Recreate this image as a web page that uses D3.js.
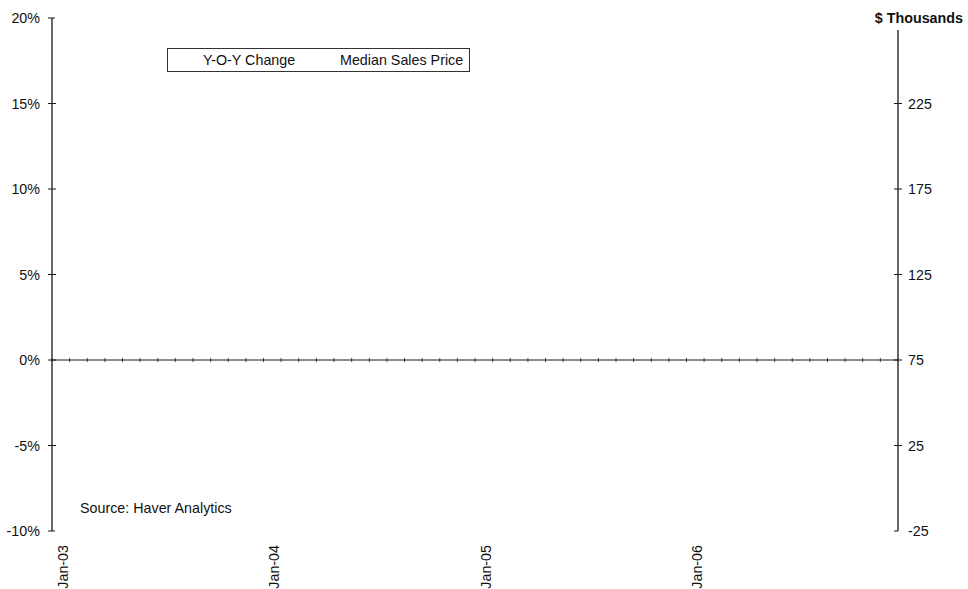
<!DOCTYPE html>
<html>
<head>
<meta charset="utf-8">
<script src="https://cdn.jsdelivr.net/npm/d3@7"></script>
<style>
  html, body { margin: 0; padding: 0; background: #fff; }
  svg text { font-family: "Liberation Sans", Arial, sans-serif; fill: #111; }
</style>
</head>
<body>
<svg id="chart" width="968" height="589"></svg>
<script>
// Monthly categories, Jan-03 through Dec-06
const years = ["03", "04", "05", "06"];
const monthNames = ["Jan","Feb","Mar","Apr","May","Jun","Jul","Aug","Sep","Oct","Nov","Dec"];
const months = years.flatMap(y => monthNames.map(m => `${m}-${y}`));
const xTickLabels = ["Jan-03", "Jan-04", "Jan-05", "Jan-06"];

// Left axis: year-over-year change (%)
const leftTicks = [20, 15, 10, 5, 0, -5, -10];
// Right axis: median sales price ($ thousands)
const rightTicks = [225, 175, 125, 75, 25, -25];

const legendLabels = ["Y-O-Y Change", "Median Sales Price"];
const sourceNote = "Source: Haver Analytics";
const rightTitle = "$ Thousands";

const svg = d3.select("#chart");
const ink = "#1a1a1a";
const fs = 14.3;

const plotL = 52, plotR = 898, plotT = 18, plotB = 531;

const x = d3.scaleBand().domain(months).range([plotL, plotR]).paddingInner(0).paddingOuter(0);
const yL = d3.scaleLinear().domain([-10, 20]).range([plotB, plotT]);
const yR = d3.scaleLinear().domain([-25, 275]).range([plotB, plotT]);

// Left axis
const gL = svg.append("g").attr("transform", `translate(${plotL},0)`);
gL.append("line").attr("y1", plotT).attr("y2", plotB).attr("stroke", ink).attr("stroke-width", 1.3);
gL.selectAll("line.tk").data(leftTicks).join("line").attr("class", "tk")
  .attr("x1", -4).attr("x2", d => (d === 20 || d === -10) ? 3 : 4)
  .attr("y1", d => yL(d)).attr("y2", d => yL(d))
  .attr("stroke", ink).attr("stroke-width", 1);
gL.selectAll("text").data(leftTicks).join("text")
  .attr("x", -12).attr("y", d => yL(d)).attr("dy", "0.35em")
  .attr("text-anchor", "end").attr("font-size", fs)
  .text(d => `${d}%`);

// Right axis
const gR = svg.append("g").attr("transform", `translate(${plotR},0)`);
gR.append("line").attr("y1", plotT + 12).attr("y2", plotB).attr("stroke", ink).attr("stroke-width", 1.3);
gR.selectAll("line.tk").data(rightTicks).join("line").attr("class", "tk")
  .attr("x1", -4).attr("x2", d => d === -25 ? 0 : 4)
  .attr("y1", d => yR(d)).attr("y2", d => yR(d))
  .attr("stroke", ink).attr("stroke-width", 1);
gR.selectAll("text").data(rightTicks).join("text")
  .attr("x", 10).attr("y", d => yR(d)).attr("dy", "0.35em")
  .attr("text-anchor", "start").attr("font-size", fs)
  .text(d => d);
svg.append("text").attr("x", 963).attr("y", 18).attr("dy", "0.35em")
  .attr("text-anchor", "end").attr("font-size", fs).attr("font-weight", "bold")
  .text(rightTitle);

// Category axis along the zero line
const y0 = yL(0);
svg.append("line").attr("x1", plotL).attr("x2", plotR).attr("y1", y0).attr("y2", y0)
  .attr("stroke", ink).attr("stroke-width", 1);
const boundaries = months.map(m => x(m)).concat([plotR]);
svg.selectAll("line.mtk").data(boundaries).join("line").attr("class", "mtk")
  .attr("x1", d => d).attr("x2", d => d).attr("y1", y0 - 2).attr("y2", y0 + 2)
  .attr("stroke", ink).attr("stroke-width", 0.8);

// Rotated year labels under the plot
svg.selectAll("text.xl").data(xTickLabels).join("text").attr("class", "xl")
  .attr("transform", d => `translate(${x(d) + x.bandwidth() / 2 + 2},545) rotate(-90)`)
  .attr("dy", "0.35em").attr("text-anchor", "end").attr("font-size", fs)
  .text(d => d);

// Legend box
const lg = svg.append("g");
lg.append("rect").attr("x", 167.5).attr("y", 48.5).attr("width", 302).attr("height", 23)
  .attr("fill", "#fff").attr("stroke", "#333").attr("stroke-width", 1);
const legendX = [203, 340];
lg.selectAll("text").data(legendLabels).join("text")
  .attr("x", (d, i) => legendX[i]).attr("y", 60).attr("dy", "0.35em")
  .attr("font-size", fs).text(d => d);

// Source note
svg.append("text").attr("x", 80).attr("y", 508).attr("dy", "0.35em")
  .attr("font-size", fs).text(sourceNote);
</script>
</body>
</html>
